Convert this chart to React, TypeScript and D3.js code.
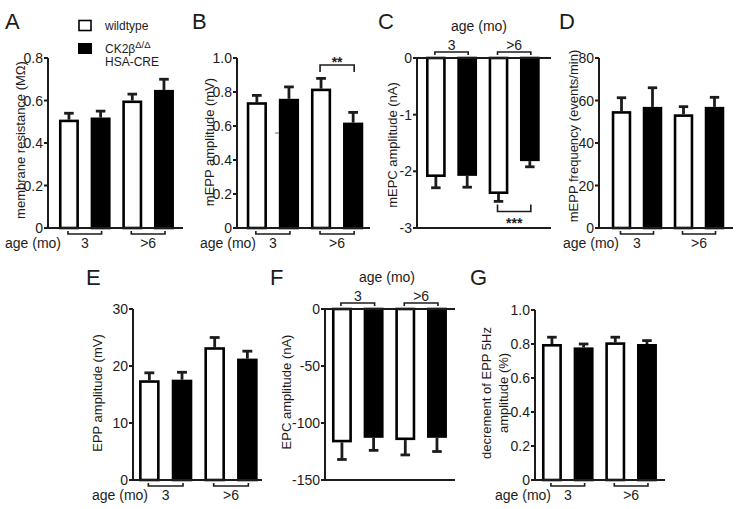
import React, { useEffect } from "react";
import * as d3 from "d3";

// ---------- data ----------
const ageGroups = ["3", ">6"];
const genotypes = ["wildtype", "CK2β HSA-CRE"];
const categories = ["wt-3", "ko-3", "wt->6", "ko->6"];

const membraneResistance = [0.51, 0.52, 0.6, 0.65];
const membraneResistanceSem = [0.03, 0.03, 0.03, 0.05];

const mEPPAmplitude = [0.74, 0.76, 0.82, 0.62];
const mEPPAmplitudeSem = [0.04, 0.07, 0.06, 0.06];

const mEPCAmplitude = [-2.1, -2.08, -2.4, -1.82];
const mEPCAmplitudeSem = [0.19, 0.2, 0.13, 0.1];

const mEPPFrequency = [55, 57, 53.5, 57];
const mEPPFrequencySem = [6.3, 9, 3.6, 4.5];

const EPPAmplitude = [17.5, 17.6, 23.3, 21.3];
const EPPAmplitudeSem = [1.3, 1.3, 1.7, 1.3];

const EPCAmplitude = [-117, -113, -115, -113];
const EPCAmplitudeSem = [15, 11, 13, 12];

const decrementEPP = [0.8, 0.78, 0.81, 0.8];
const decrementEPPSem = [0.04, 0.02, 0.03, 0.02];

const ticksA = [0, 0.2, 0.4, 0.6, 0.8];
const ticksB = [0, 0.2, 0.4, 0.6, 0.8, 1.0];
const ticksC = [0, -1, -2, -3];
const ticksD = [0, 20, 40, 60, 80];
const ticksE = [0, 10, 20, 30];
const ticksF = [0, -50, -100, -150];
const ticksG = [0, 0.2, 0.4, 0.6, 0.8, 1.0];

const FONT = "'Liberation Sans', Arial, sans-serif";
const INK = "#1c1c1c";

type Cfg = {
  letter: string;
  letterX: number;
  letterY: number;
  axisX: number;
  axisEnd: number;
  yTop: number;
  yBottom: number;
  domain: [number, number];
  ticks: number[];
  fmt: (v: number) => string;
  band: [number, number];
  values: number[];
  sems: number[];
  yLabel: string[];
  yLabelX: number[];
  yLabelY: number;
  negative?: boolean;
  ageX: number;
  sig?: { text: string; offset: number; dir: number };
  dash?: [number, number];
};

const fmt1 = (v: number) => (v === 0 ? "0" : v.toFixed(1));
const fmt0 = (v: number) => String(v);

const panels: Cfg[] = [
  {
    letter: "A", letterX: 5, letterY: 29, axisX: 48, axisEnd: 183, yTop: 58, yBottom: 228,
    domain: [0, 0.8], ticks: ticksA, fmt: fmt1, band: [53.1, 179.8],
    values: membraneResistance, sems: membraneResistanceSem,
    yLabel: ["membrane resistance (MΩ)"], yLabelX: [20], yLabelY: 140, ageX: 5,
  },
  {
    letter: "B", letterX: 192, letterY: 29, axisX: 237, axisEnd: 370, yTop: 58, yBottom: 228,
    domain: [0, 1.0], ticks: ticksB, fmt: fmt1, band: [240.8, 369.2],
    values: mEPPAmplitude, sems: mEPPAmplitudeSem,
    yLabel: ["mEPP amplitude (mV)"], yLabelX: [209], yLabelY: 142, ageX: 200,
    sig: { text: "**", offset: 65, dir: 1 }, dash: [277, 133],
  },
  {
    letter: "C", letterX: 378, letterY: 29, axisX: 417, axisEnd: 551, yTop: 58, yBottom: 228,
    domain: [-3, 0], ticks: ticksC, fmt: fmt0, band: [420.2, 545.5],
    values: mEPCAmplitude, sems: mEPCAmplitudeSem,
    yLabel: ["mEPC amplitude (nA)"], yLabelX: [392], yLabelY: 145, negative: true, ageX: 479,
    sig: { text: "***", offset: 211.5, dir: -1 },
  },
  {
    letter: "D", letterX: 559, letterY: 29, axisX: 599, axisEnd: 733, yTop: 58, yBottom: 228,
    domain: [0, 80], ticks: ticksD, fmt: fmt0, band: [606, 730],
    values: mEPPFrequency, sems: mEPPFrequencySem,
    yLabel: ["mEPP frequency (events/min)"], yLabelX: [573], yLabelY: 136, ageX: 563,
  },
  {
    letter: "E", letterX: 86, letterY: 285, axisX: 133, axisEnd: 262, yTop: 309, yBottom: 480,
    domain: [0, 30], ticks: ticksE, fmt: fmt0, band: [133, 263.7],
    values: EPPAmplitude, sems: EPPAmplitudeSem,
    yLabel: ["EPP amplitude (mV)"], yLabelX: [97], yLabelY: 393, ageX: 92,
  },
  {
    letter: "F", letterX: 270, letterY: 285, axisX: 325, axisEnd: 455, yTop: 309, yBottom: 480,
    domain: [-150, 0], ticks: ticksF, fmt: fmt0, band: [326.1, 452.8],
    values: EPCAmplitude, sems: EPCAmplitudeSem,
    yLabel: ["EPC amplitude (nA)"], yLabelX: [286], yLabelY: 392, negative: true, ageX: 387,
  },
  {
    letter: "G", letterX: 470, letterY: 285, axisX: 535, axisEnd: 665, yTop: 310, yBottom: 480,
    domain: [0, 1.0], ticks: ticksG, fmt: fmt1, band: [536.1, 662.8],
    values: decrementEPP, sems: decrementEPPSem,
    yLabel: ["decrement of EPP 5Hz", "amplitude (%)"], yLabelX: [486, 503], yLabelY: 393, ageX: 495,
  },
];

const SW = 2.6;

function Panel({ cfg }: { cfg: Cfg }) {
  const y = d3.scaleLinear().domain(cfg.domain).range([cfg.yBottom, cfg.yTop]);
  const x = d3.scaleBand<string>().domain(categories).range(cfg.band).paddingInner(0.37).paddingOuter(0.185);
  const bw = x.bandwidth();
  const y0 = y(0);
  const cx = (i: number) => (x(categories[i]) as number) + bw / 2;
  const neg = !!cfg.negative;

  const bracketY = neg ? cfg.yTop - 6 : cfg.yBottom + 6;
  const tickDir = neg ? 3 : -3;
  const labelY = neg ? cfg.yTop - 8 : cfg.yBottom + 20;

  return (
    <g>
      <text x={cfg.letterX} y={cfg.letterY} fontSize={22} fontFamily={FONT} fill={INK}>{cfg.letter}</text>

      {cfg.yLabel.map((t, k) => (
        <text key={k} transform={`translate(${cfg.yLabelX[k]},${cfg.yLabelY}) rotate(-90)`} textAnchor="middle"
          dominantBaseline="central" fontSize={13} fontFamily={FONT} fill={INK}>{t}</text>
      ))}

      {cfg.values.map((v, i) => {
        const x0 = (x(categories[i]) as number) + SW / 2;
        const yv = y(v);
        const top = Math.min(yv, y0);
        const h = Math.abs(yv - y0);
        const wt = i % 2 === 0;
        const e = neg ? y(v - cfg.sems[i]) : y(v + cfg.sems[i]);
        const cw = bw * 0.48;
        return (
          <g key={i}>
            <line x1={cx(i)} x2={cx(i)} y1={yv} y2={e} stroke={INK} strokeWidth={2.8} />
            <line x1={cx(i) - cw / 2} x2={cx(i) + cw / 2} y1={e} y2={e} stroke={INK} strokeWidth={2.8} />
            <rect x={x0} y={neg ? top : top + SW / 2} width={bw - SW} height={h - SW / 2}
              fill={wt ? "#fff" : "#000"} stroke="#000" strokeWidth={SW} />
          </g>
        );
      })}

      <line x1={cfg.axisX} x2={cfg.axisX} y1={cfg.yTop} y2={cfg.yBottom} stroke={INK} strokeWidth={2} />
      <line x1={cfg.axisX - 4} x2={cfg.axisEnd} y1={y0} y2={y0} stroke={INK} strokeWidth={2} />
      {neg && (
        <line x1={cfg.axisX - 4} x2={cfg.axisEnd} y1={cfg.yBottom} y2={cfg.yBottom} stroke={INK} strokeWidth={2} />
      )}
      {cfg.ticks.map((t) => (
        <g key={t}>
          <line x1={cfg.axisX - 4} x2={cfg.axisX} y1={y(t)} y2={y(t)} stroke={INK} strokeWidth={2} />
          <text x={cfg.axisX - 5} y={y(t)} textAnchor="end" dominantBaseline="central" fontSize={14}
            fontFamily={FONT} fill={INK}>{cfg.fmt(t)}</text>
        </g>
      ))}

      {ageGroups.map((g, gi) => {
        const a = cx(gi * 2) - 1;
        const b = cx(gi * 2 + 1) + 1;
        return (
          <g key={g}>
            <path d={`M${a},${bracketY + tickDir}V${bracketY}H${b}V${bracketY + tickDir}`} fill="none" stroke={INK} strokeWidth={1.6} />
            <text x={(a + b) / 2} y={labelY} textAnchor="middle" fontSize={14} fontFamily={FONT} fill={INK}>{g}</text>
          </g>
        );
      })}
      {neg ? (
        <text x={cfg.ageX} y={cfg.yTop - 27} textAnchor="middle" fontSize={14} fontFamily={FONT} fill={INK}>age (mo)</text>
      ) : (
        <text x={cfg.ageX} y={cfg.yBottom + 20} fontSize={14} fontFamily={FONT} fill={INK}>age (mo)</text>
      )}

      {cfg.sig && (() => {
        const a = cx(2) - 1;
        const b = cx(3) + 1;
        const yy = cfg.sig!.offset;
        const d = cfg.sig!.dir * 7;
        const ty = cfg.sig!.dir > 0 ? yy + 2 : yy + 16;
        return (
          <g>
            <path d={`M${a},${yy + d}V${yy}H${b}V${yy + d}`} fill="none" stroke={INK} strokeWidth={1.6} />
            <text x={(a + b) / 2} y={ty} textAnchor="middle" fontSize={14} fontWeight="bold" fontFamily={FONT} fill={INK}>{cfg.sig!.text}</text>
          </g>
        );
      })()}
      {cfg.dash && (
        <line x1={cfg.dash[0] - 2} x2={cfg.dash[0] + 2} y1={cfg.dash[1]} y2={cfg.dash[1]} stroke="#666" strokeWidth={1} />
      )}
    </g>
  );
}

function Legend() {
  return (
    <g fontFamily={FONT} fill={INK} fontSize={12}>
      <rect x={79} y={20.5} width={12} height={10} fill="#fff" stroke="#000" strokeWidth={1.6} />
      <text x={105} y={30}>{genotypes[0]}</text>
      <rect x={78} y={43} width={14} height={11} fill="#000" />
      <text x={105} y={53}>
        CK2β<tspan dy={-5} fontSize={9.5}>Δ/Δ</tspan>
      </text>
      <text x={105} y={66}>{genotypes[1].split(" ")[1]}</text>
    </g>
  );
}

export default function App() {
  useEffect(() => {
    document.body.style.margin = "0";
  }, []);
  return (
    <svg width={742} height={509} viewBox="0 0 742 509" style={{ display: "block", background: "#fff" }}>
      <rect width={742} height={509} fill="#fff" />
      {panels.map((p) => (
        <Panel key={p.letter} cfg={p} />
      ))}
      <Legend />
    </svg>
  );
}
